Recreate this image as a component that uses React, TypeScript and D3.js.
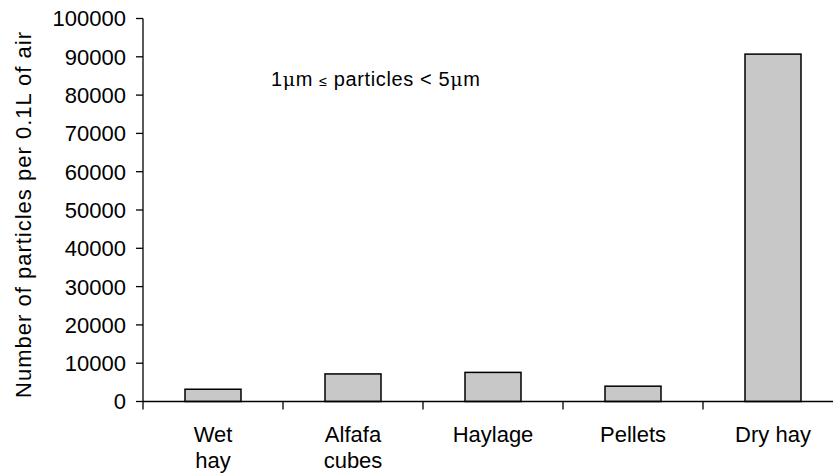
import React from 'react';
import * as d3 from 'd3';

const categories = ['Wet\nhay', 'Alfafa\ncubes', 'Haylage', 'Pellets', 'Dry hay'];
const values = [3200, 7200, 7600, 4000, 90700];
const yTicks = [0, 10000, 20000, 30000, 40000, 50000, 60000, 70000, 80000, 90000, 100000];

const width = 833;
const height = 475;
const font = 'Arial, "Liberation Sans", sans-serif';

const App: React.FC = () => {
  // plot area
  const left = 143;
  const right = 843;
  const top = 18.5;
  const bottom = 401.5;

  const x = d3.scaleBand<number>()
    .domain(d3.range(categories.length))
    .range([left, right]);
  const y = d3.scaleLinear().domain([0, 100000]).range([bottom, top]);
  const barW = x.bandwidth() * 0.4;

  return (
    <svg width={width} height={height} style={{ position: 'absolute', left: 0, top: 0, background: '#fff' }}
      fontFamily={font}>
      {/* bars */}
      {values.map((v, i) => (
        <rect key={i}
          x={x(i)! + (x.bandwidth() - barW) / 2}
          y={y(v)}
          width={barW}
          height={y(0) - y(v)}
          fill="#c8c8c8" stroke="#000" strokeWidth={1.5} />
      ))}

      {/* y axis */}
      <line x1={left} x2={left} y1={y(100000)} y2={y(0)} stroke="#000" strokeWidth={1.3} />
      {yTicks.map(t => (
        <g key={t}>
          <line x1={left - 7} x2={left} y1={y(t)} y2={y(t)} stroke="#000" strokeWidth={1.3} />
          <text x={left - 17} y={y(t)} dy="0.36em" textAnchor="end" fontSize={22}>{t}</text>
        </g>
      ))}

      {/* x axis */}
      <line x1={left} x2={right} y1={y(0)} y2={y(0)} stroke="#000" strokeWidth={1.3} />
      {d3.range(categories.length + 1).map(i => {
        const px = left + i * x.step();
        return <line key={i} x1={px} x2={px} y1={y(0)} y2={y(0) + 8} stroke="#000" strokeWidth={1.3} />;
      })}
      {categories.map((c, i) => (
        <text key={c} x={x(i)! + x.bandwidth() / 2} y={442} textAnchor="middle" fontSize={22}>
          {c.split('\n').map((line, j) => (
            <tspan key={j} x={x(i)! + x.bandwidth() / 2} dy={j === 0 ? 0 : 26}>{line}</tspan>
          ))}
        </text>
      ))}

      {/* y title */}
      <text transform={`translate(31,${(32 + 398) / 2}) rotate(-90)`} textAnchor="middle" fontSize={22}
        textLength={366} lengthAdjust="spacing">
        Number of particles per 0.1L of air
      </text>

      {/* annotation */}
      <text x={271} y={86} fontSize={20} textLength={209} lengthAdjust="spacing">
        1<tspan fontFamily='"DejaVu Serif", serif' fontSize={19}>μ</tspan>m <tspan fontSize={14}>≤</tspan> particles &lt; 5<tspan fontFamily='"DejaVu Serif", serif' fontSize={19}>μ</tspan>m
      </text>
    </svg>
  );
};

export default App;
